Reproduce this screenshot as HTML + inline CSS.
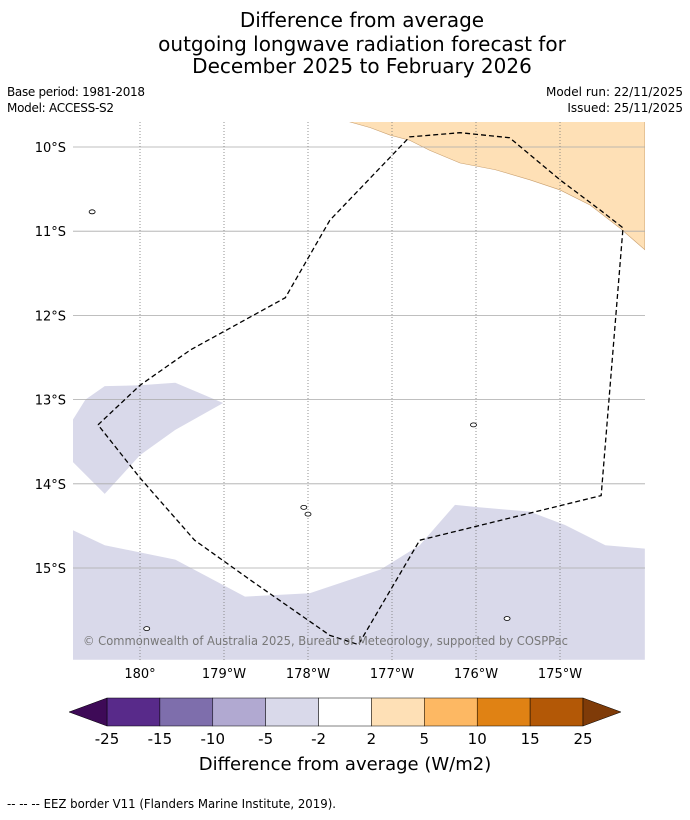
<!DOCTYPE html>
<html><head><meta charset="utf-8"><style>
body{margin:0;background:#fff;width:690px;height:816px;overflow:hidden;font-family:"DejaVu Sans","Liberation Sans",sans-serif}
svg text{font-family:"DejaVu Sans","Liberation Sans",sans-serif}
</style></head><body>
<svg id="chart" width="690" height="816" xmlns="http://www.w3.org/2000/svg">
<text x="362" y="27" font-size="20" text-anchor="middle">Difference from average</text>
<text x="362" y="51" font-size="20" text-anchor="middle">outgoing longwave radiation forecast for</text>
<text x="362" y="73" font-size="20" text-anchor="middle">December 2025 to February 2026</text>
<text x="7" y="96" font-size="12" textLength="138">Base period: 1981-2018</text>
<text x="7" y="112" font-size="12" textLength="107">Model: ACCESS-S2</text>
<text x="683" y="96" font-size="12" text-anchor="end">Model run: 22/11/2025</text>
<text x="683" y="112" font-size="12" text-anchor="end">Issued: 25/11/2025</text>
<defs><clipPath id="mc"><rect x="73" y="122" width="572" height="538"/></clipPath></defs>
<g id="map" clip-path="url(#mc)"></g>
<g id="axes"></g>
<text x="83" y="645" font-size="12" fill="#777" textLength="485" lengthAdjust="spacingAndGlyphs">© Commonwealth of Australia 2025, Bureau of Meteorology, supported by COSPPac</text>
<g id="cbar"></g>
<text x="345" y="770" font-size="18" text-anchor="middle">Difference from average (W/m2)</text>
<text x="7" y="808" font-size="12" textLength="329" lengthAdjust="spacingAndGlyphs">--  --  -- EEZ border V11 (Flanders Marine Institute, 2019).</text>
</svg>
<script>
const latTicks=[10,11,12,13,14,15];
const lonTicks=[180,181,182,183,184,185];
const lonLabels=["180°","179°W","178°W","177°W","176°W","175°W"];
const cbBounds=["-25","-15","-10","-5","-2","2","5","10","15","25"];
const cbColors=["#582a8a","#7e6eac","#b1a9d1","#d9d9ea","#ffffff","#fee0b6","#fdb863","#e08214","#b35806"];
const cbLow="#3e0a57", cbHigh="#7f3b08";
const orangeLon=[182.49,186.01,186.01,185.71,185.36,185.0,184.64,184.23,183.81,183.45,183.21,182.98,182.74];
const orangeLat=[9.70,9.70,11.22,10.96,10.69,10.51,10.39,10.27,10.19,10.04,9.92,9.86,9.77];
const lav1Lon=[179.20,179.20,179.58,180,180.42,180.99,180.42,180,179.58,179.35];
const lav1Lat=[13.24,13.74,14.12,13.66,13.36,13.04,12.80,12.83,12.84,13.0];
const lav2Lon=[179.20,179.58,180.42,181.25,182.02,182.86,183.33,183.75,184.05,184.64,185.06,185.54,186.01,186.01,179.20];
const lav2Lat=[14.55,14.73,14.90,15.34,15.30,15.02,14.73,14.25,14.28,14.33,14.49,14.73,14.77,16.09,16.09];
const eezLon=[179.5,180,180.6,181.73,182.26,183.21,183.81,184.40,185.0,185.48,185.75,185.49,183.33,182.60,182.26,181.31,180.65,180,179.5];
const eezLat=[13.30,12.83,12.41,11.79,10.87,9.88,9.83,9.89,10.39,10.75,10.96,14.14,14.67,15.91,15.80,15.14,14.67,13.93,13.30];
const islandLon=[181.95,182.0,183.97,184.37,180.08,179.43];
const islandLat=[14.28,14.36,13.30,15.60,15.72,10.77];
const NS="http://www.w3.org/2000/svg";
const X=l=>140+(l-180)*84, Y=s=>147+(s-10)*84.2;
function mk(t,a,p){const e=document.createElementNS(NS,t);for(const k in a)e.setAttribute(k,a[k]);p.appendChild(e);return e;}
const map=document.getElementById('map'),axes=document.getElementById('axes'),cb=document.getElementById('cbar');
function poly(lo,la,fill,stroke,name){const pts=lo.map((l,i)=>X(l)+','+Y(la[i])).join(' ');
 const e=mk('polygon',{points:pts,fill:fill,stroke:stroke,'stroke-width':0.6},map);
 
 return e;}
poly(orangeLon,orangeLat,"#fee0b6","#c9a070","positive-anomaly-region");
poly(lav1Lon,lav1Lat,"#d9d9ea","none","negative-anomaly-region-west");
poly(lav2Lon,lav2Lat,"#d9d9ea","none","negative-anomaly-region-south");
latTicks.forEach(s=>{const l=mk('line',{x1:73,x2:645,y1:Y(s),y2:Y(s),stroke:'#aaa','stroke-width':0.8},map);
 
 
 const t=mk('text',{x:66,y:Y(s)+5,'font-size':13,'text-anchor':'end'},axes);t.textContent=s+'°S';
 
 });
lonTicks.forEach((l,i)=>{const g=mk('line',{x1:X(l),x2:X(l),y1:122,y2:660,stroke:'#777','stroke-width':0.8,'stroke-dasharray':'1,2'},map);
 
 
 const t=mk('text',{x:X(l),y:678,'font-size':13,'text-anchor':'middle'},axes);t.textContent=lonLabels[i];
 
 });
const eez=mk('polyline',{points:eezLon.map((l,i)=>X(l)+','+Y(eezLat[i])).join(' '),fill:'none',stroke:'#000','stroke-width':1.3,'stroke-dasharray':'5,3'},map);


islandLon.forEach((l,i)=>{const e=mk('ellipse',{cx:X(l),cy:Y(islandLat[i]),rx:3,ry:2,fill:'#fff',stroke:'#000','stroke-width':0.8},map);
 
 });
const x0=107,x1=583,yT=698,yB=726,w=(x1-x0)/cbColors.length;
cbColors.forEach((c,i)=>{const r=mk('rect',{x:x0+i*w,y:yT,width:w,height:yB-yT,fill:c,stroke:'#000','stroke-width':0.5},cb);
 
 });
const lt=mk('polygon',{points:`${x0},${yT} ${x0},${yB} 69,${(yT+yB)/2}`,fill:cbLow,stroke:'#000','stroke-width':0.5},cb);


const ht=mk('polygon',{points:`${x1},${yT} ${x1},${yB} 621,${(yT+yB)/2}`,fill:cbHigh,stroke:'#000','stroke-width':0.5},cb);


cbBounds.forEach((b,i)=>{const t=mk('text',{x:x0+i*w,y:744,'font-size':15,'text-anchor':'middle'},cb);t.textContent=b;
 
 });
</script>
</body></html>
